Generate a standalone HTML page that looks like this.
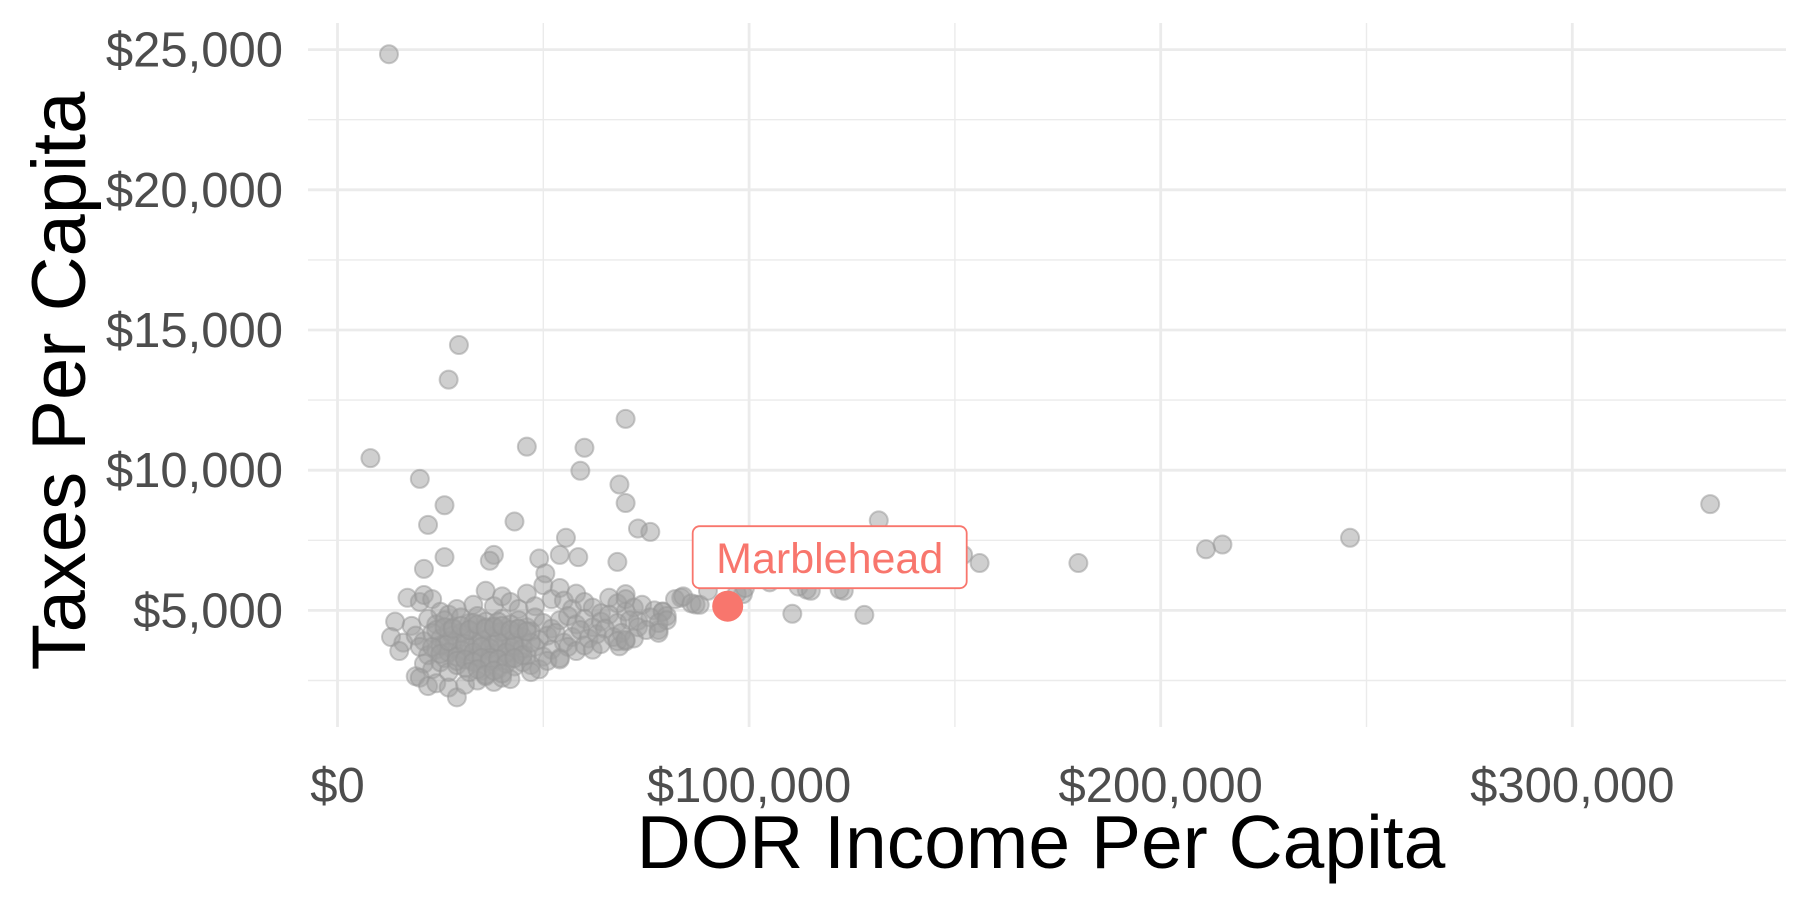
<!DOCTYPE html>
<html><head><meta charset="utf-8"><style>
html,body{margin:0;padding:0;background:#fff;}
svg{display:block;font-family:"Liberation Sans",Arial,sans-serif;}
</style></head><body>
<svg id="chart" width="1800" height="900" viewBox="0 0 1800 900">
<g id="grid"></g>
<g id="ticks"></g>
<g id="pts"></g>
<g id="hl"></g>
<text x="1041" y="868" font-size="75" text-anchor="middle" fill="#000">DOR Income Per Capita</text>
<text transform="translate(85,381) rotate(-90)" font-size="76" text-anchor="middle" fill="#000">Taxes Per Capita</text>
</svg>
<script>
const xTicks = [0, 100000, 200000, 300000];
const xTickLabels = ["$0", "$100,000", "$200,000", "$300,000"];
const xMinor = [50000, 150000, 250000];
const yTicks = [5000, 10000, 15000, 20000, 25000];
const yTickLabels = ["$5,000", "$10,000", "$15,000", "$20,000", "$25,000"];
const yMinor = [2500, 7500, 12500, 17500, 22500];
// income per capita in $k
const incomeK = [12.5,29.5,27,70,8,46,60,59,20,68.5,70,26,22,43,131.5,73,76,55.5,333.5,246,215,211,180,156,152,26,38,37,21,49,50.5,54,58.5,68,114,123,128,110.5,98.5,87,83.5,79,78,73,70,70,68.5,70,
17,20,21,23,25,27,29,33,36,38,40,42,44,46,48,50,52,54,55,57,58,60,62,64,66,68,70,72,74,77,79,80,
14,18,22,24,26,28,30,32,34,36,38,40,42,44,46,48,50,52,54,56,58,60,62,64,66,68,71,73,76,78,80,
13,16,19,21,23,25,27,29,31,33,35,37,39,41,43,45,47,49,51,53,55,57,59,61,63,65,67,69,72,75,78,
15,20,22,24,26,28,30,32,34,36,38,40,42,44,46,48,50,52,54,56,58,60,62,64,68,70,
19,21,23,25,27,29,31,33,35,37,39,41,43,45,47,49,51,54,
20,22,24,27,29,31,34,36,38,40,42,47,
26,28,30,32,34,36,38,40,42,44,30,35,33,37,39,41,43,45,25,27,
82,84,86,88,90,95,97,99,105,112,115,122,
23,25,27,29,31,33,35,37,39,41,43,45,47,24,26,28,30,32,34,36,38,40,42,44,46,29,31,33,35,37,39,41,43,32,34,36,38,40];
const taxes = [24835,14465,13230,11830,10430,10840,10800,9980,9690,9490,8830,8750,8050,8170,8210,7920,7800,7590,8790,7590,7350,7180,6690,6690,6980,6900,6980,6770,6480,6850,6320,6980,6900,6730,5740,5700,4840,4880,5580,5210,5450,4960,4300,4630,4960,5580,3720,3900,
5450,5300,5550,5400,4950,4850,5050,5200,5700,5150,5500,5300,5050,5600,5150,5900,5400,5800,5350,5050,5600,5300,5100,4900,5450,5250,5400,5100,5200,5000,4950,4800,
4600,4450,4700,4500,4650,4400,4750,4550,4800,4600,4450,4700,4500,4650,4400,4750,4550,4350,4650,4800,4500,4700,4400,4600,4850,4550,4650,4400,4750,4550,4650,
4050,3850,4100,3900,4200,4000,4250,3950,4150,3900,4250,4000,4200,3950,4150,4050,4250,3950,4100,4200,3850,4050,4300,4000,4150,4350,4050,4200,4000,4300,4200,
3550,3700,3400,3600,3300,3650,3450,3700,3350,3600,3450,3750,3300,3550,3400,3700,3350,3600,3300,3700,3550,3750,3600,3800,3900,3950,
2650,3100,2900,3150,2800,3050,2950,3200,2850,3100,2900,3200,3000,3150,3050,2900,3200,3250,
2600,2300,2400,2250,1900,2350,2500,2650,2450,2600,2550,2800,
3800,4100,3600,4300,3800,4400,3800,4250,3700,4350,4200,3950,4550,3650,4600,3450,3850,3650,3750,3500,
5400,5500,5250,5200,5700,5350,5600,5800,6000,5850,5700,5750,
3700,3450,3900,3350,3800,3500,3700,3300,3900,3500,3750,3400,3850,4300,4400,4350,4450,4300,4500,4350,4400,4450,4300,4350,4250,3200,3250,3150,3300,3200,3250,3100,3300,2800,2900,2700,2850,2750];
const highlightName = ["Marblehead"];
const highlightIncome = [94800];
const highlightTax = [5150];

const NS = "http://www.w3.org/2000/svg";
const L = 308, R = 1786, T = 23, B = 727;
function xs(v){ return 337.5 + v * 411.6 / 100000; }
function ys(v){ return 49.6 + (25000 - v) * 140.2 / 5000; }
function mk(tag, attrs, parent){
  const e = document.createElementNS(NS, tag);
  for (const k in attrs) e.setAttribute(k, attrs[k]);
  parent.appendChild(e); return e;
}
const grid = document.getElementById('grid');
yMinor.forEach(v => { const e = mk('line', {x1:L, x2:R, y1:ys(v), y2:ys(v), stroke:'#ebebeb', 'stroke-width':1.4}, grid);
  
   });
xMinor.forEach(v => { const e = mk('line', {y1:T, y2:B, x1:xs(v), x2:xs(v), stroke:'#ebebeb', 'stroke-width':1.4}, grid);
  
   });
yTicks.forEach(v => { const e = mk('line', {x1:L, x2:R, y1:ys(v), y2:ys(v), stroke:'#ebebeb', 'stroke-width':2.8}, grid);
  
   });
xTicks.forEach(v => { const e = mk('line', {y1:T, y2:B, x1:xs(v), x2:xs(v), stroke:'#ebebeb', 'stroke-width':2.8}, grid);
  
   });
const ticks = document.getElementById('ticks');
yTicks.forEach((v,i) => { const e = mk('text', {x:283, y:ys(v)+17, 'font-size':49, 'text-anchor':'end', fill:'#4d4d4d'}, ticks);
  e.textContent = yTickLabels[i];
  
   });
xTicks.forEach((v,i) => { const e = mk('text', {x:xs(v), y:802, 'font-size':49, 'text-anchor':'middle', fill:'#4d4d4d'}, ticks);
  e.textContent = xTickLabels[i];
  
   });
const pts = document.getElementById('pts');
incomeK.forEach((v,i) => { const e = mk('circle', {cx:xs(v*1000), cy:ys(taxes[i]), r:9, fill:'rgba(160,160,160,0.5)', stroke:'rgba(150,150,150,0.5)', 'stroke-width':2}, pts);
  
   });
const hl = document.getElementById('hl');
highlightName.forEach((n,i) => {
  const cx = xs(highlightIncome[i]), cy = ys(highlightTax[i]);
  const c = mk('circle', {cx:cx, cy:cy, r:15.5, fill:'#F8766D'}, hl);
  
  
  const r = mk('rect', {x:cx-35, y:cy-80, width:274, height:62, rx:7, fill:'#fff', stroke:'#F8766D', 'stroke-width':1.8}, hl);
  
  
  const t = mk('text', {x:cx+102, y:cy-33, 'font-size':43, 'text-anchor':'middle', fill:'#F8766D'}, hl);
  t.textContent = n;
  
  
});
</script>
</body></html>
